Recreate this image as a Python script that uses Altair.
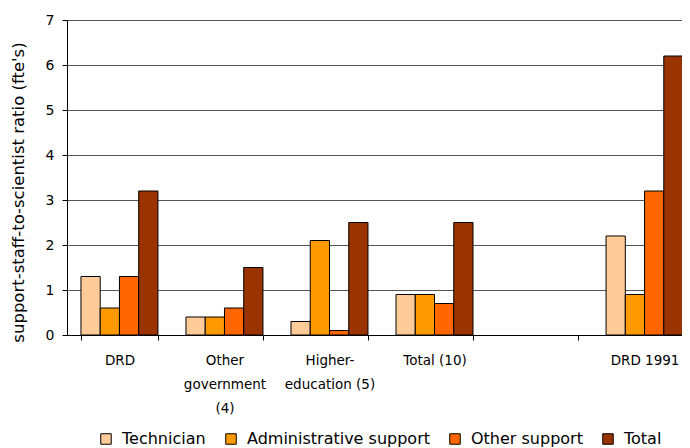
import altair as alt
import pandas as pd

categories = ["DRD", "Other|government|(4)", "Higher-|education (5)", "Total (10)", "_gap", "DRD 1991"]
series = ["Technician", "Administrative support", "Other support", "Total"]
technician = [1.3, 0.4, 0.3, 0.9, None, 2.2]
administrative = [0.6, 0.4, 2.1, 0.9, None, 0.9]
other_support = [1.3, 0.6, 0.1, 0.7, None, 3.2]
total = [3.2, 1.5, 2.5, 2.5, None, 6.2]
colors = ["#FFCC99", "#FF9900", "#FF6600", "#993300"]
y_ticks = [0, 1, 2, 3, 4, 5, 6, 7]

rows = []
for s, vals in zip(series, [technician, administrative, other_support, total]):
    for c, v in zip(categories, vals):
        if v is not None:
            rows.append({"category": c, "series": s, "value": v})
df = pd.DataFrame(rows)

FONT = "DejaVu Sans"

chart = alt.Chart(df).mark_bar(stroke="black", strokeWidth=1).encode(
    x=alt.X(
        "category:N",
        sort=categories,
        scale=alt.Scale(domain=categories, paddingInner=0.267, paddingOuter=0.133,
                        range=[0, 630]),
        axis=alt.Axis(
            title=None,
            labelAngle=0,
            labelExpr="datum.label == '_gap' ? '' : split(datum.label, '|')",
            tickBand="extent",
            tickSize=5,
            tickColor="black",
            domainColor="black",
            labelFontSize=13.5,
            labelLineHeight=24,
            labelPadding=13,
            labelColor="black",
            labelFont=FONT,
            grid=False,
        ),
    ),
    xOffset=alt.XOffset("series:N", sort=series,
                        scale=alt.Scale(domain=series, paddingInner=0, paddingOuter=0)),
    y=alt.Y(
        "value:Q",
        scale=alt.Scale(domain=[0, 7], nice=False),
        axis=alt.Axis(
            values=y_ticks,
            title="support-staff-to-scientist ratio (fte's)",
            titleFontSize=16.5,
            titleFontWeight="normal",
            titleFont=FONT,
            titleColor="black",
            titlePadding=19,
            titleY=172,
            labelFontSize=14,
            labelFont=FONT,
            labelColor="black",
            labelPadding=8,
            tickSize=5,
            tickColor="black",
            domainColor="black",
            gridColor="#555555",
            grid=True,
        ),
    ),
    color=alt.Color(
        "series:N",
        sort=series,
        scale=alt.Scale(domain=series, range=colors),
        legend=alt.Legend(
            title=None,
            orient="none",
            legendX=31,
            legendY=411,
            direction="horizontal",
            columns=4,
            symbolType="square",
            symbolSize=110,
            symbolStrokeColor="black",
            symbolStrokeWidth=1,
            symbolOpacity=1,
            labelFontSize=16,
            labelFont=FONT,
            labelColor="black",
            labelOffset=8,
            labelLimit=400,
            columnPadding=17,
            padding=0,
        ),
    ),
).properties(
    width=615,
    height=315,
    autosize=alt.AutoSizeParams(type="none"),
    padding={"left": 59, "top": 12, "right": 0, "bottom": 113},
).configure_view(stroke="black", strokeWidth=1)

chart.save("out.html", embed_options={"renderer": "svg", "actions": False})
